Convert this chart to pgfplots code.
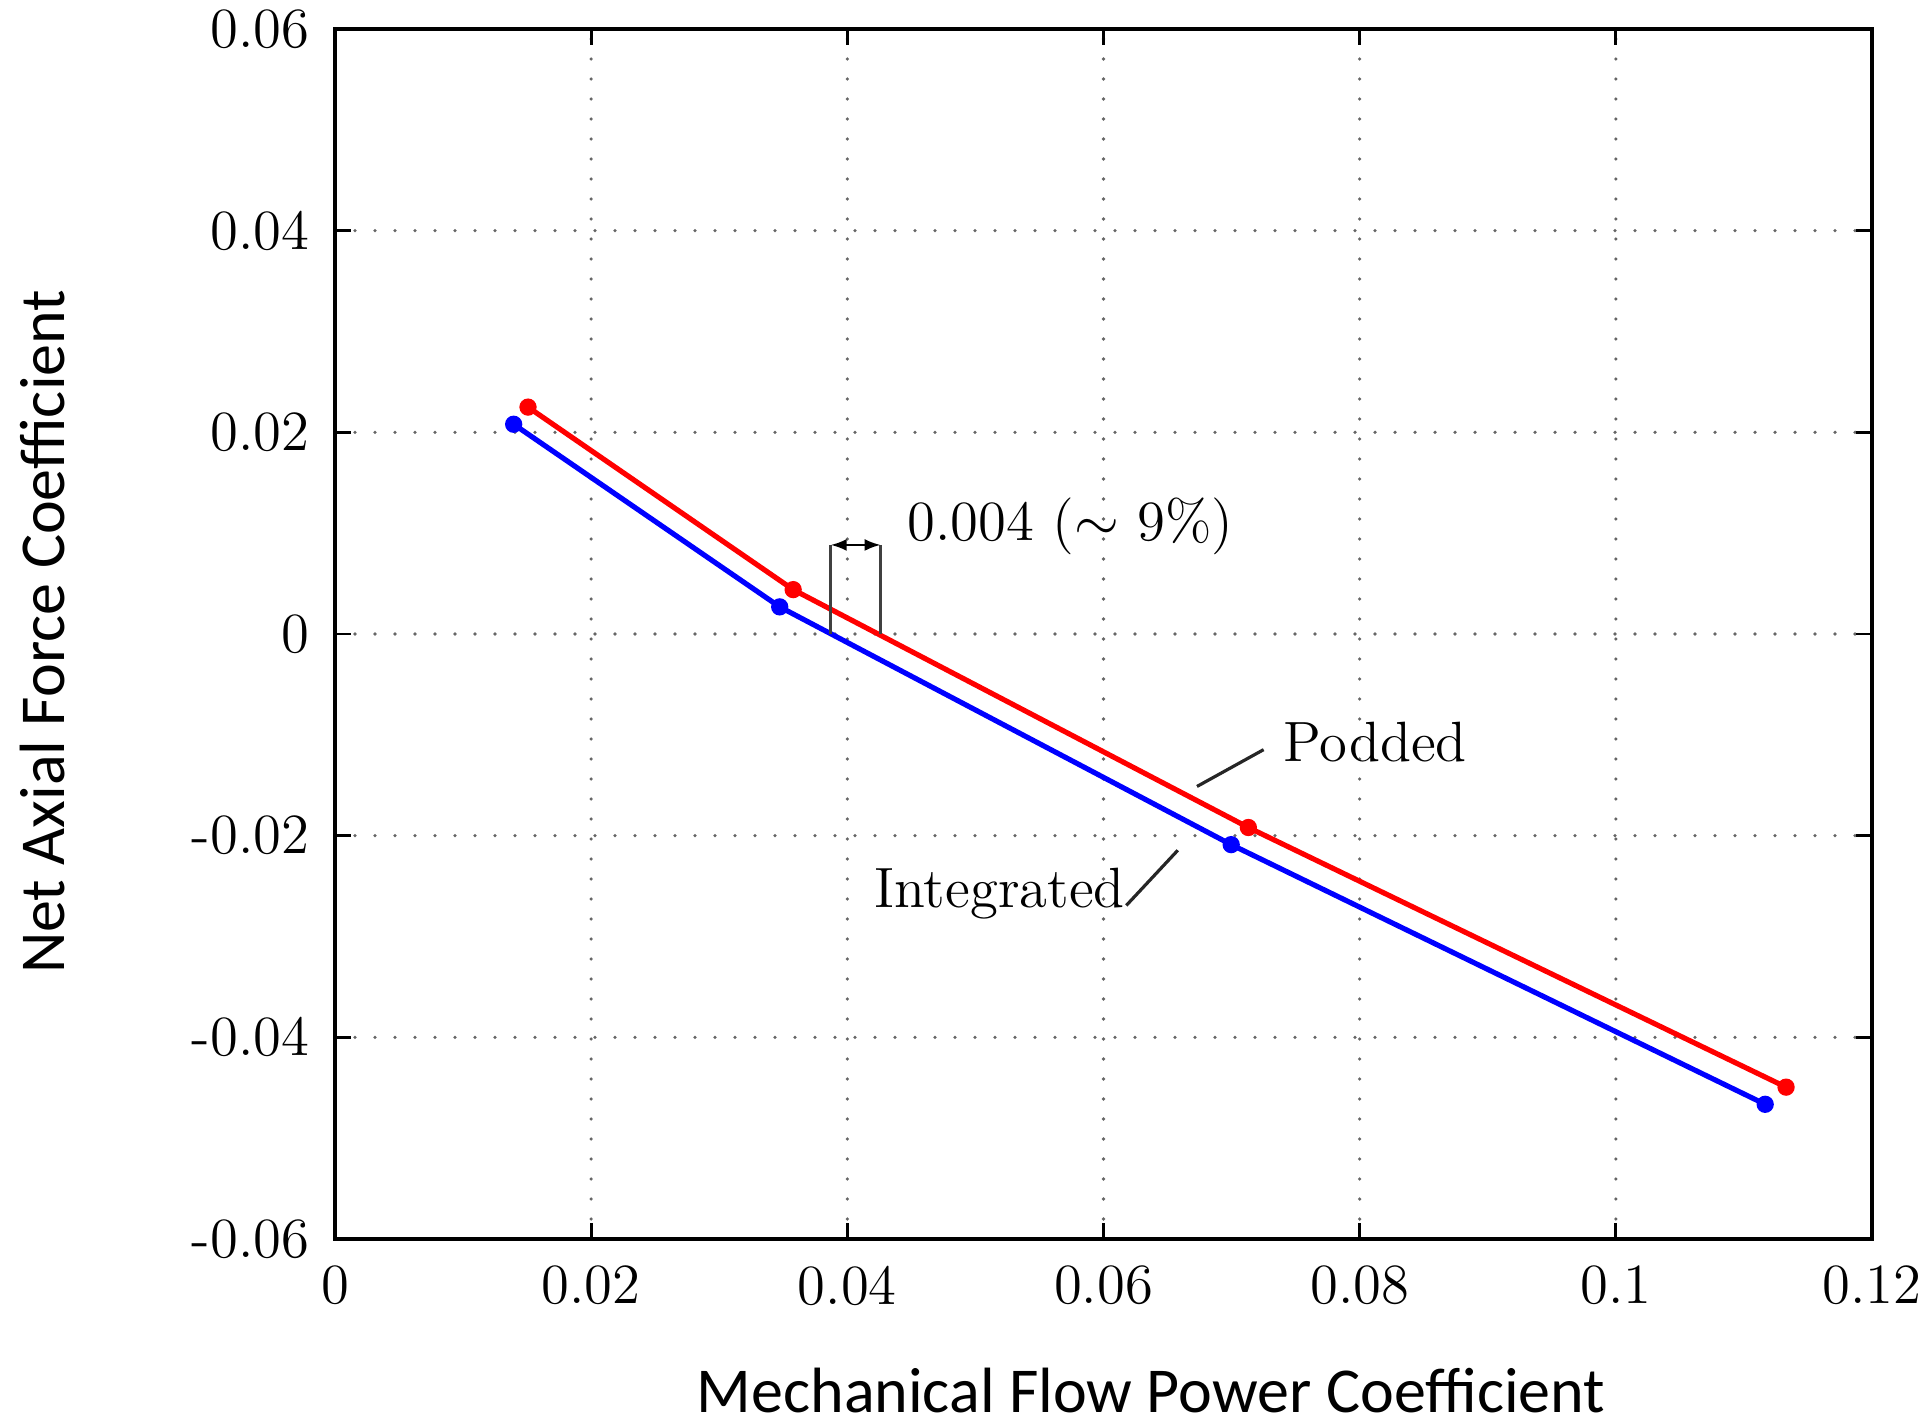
\documentclass[border=0pt]{standalone}
\usepackage{fontspec}
\newfontfamily\calibri{Carlito}
\usepackage{pgfplots}
\pgfplotsset{compat=1.18}
\usetikzlibrary{arrows.meta}
\begin{document}
\begin{tikzpicture}
\path[use as bounding box] (-83.75pt,-44.25pt) rectangle (397.25pt,309.75pt);
\begin{axis}[
  at={(0,0)}, anchor=south west,
  scale only axis, width=384.25pt, height=302.5pt,
  xmin=0, xmax=0.12, ymin=-0.06, ymax=0.06,
  xtick={0,0.02,0.04,0.06,0.08,0.1,0.12},
  xticklabels={0,0.02,0.04,0.06,0.08,0.1,0.12},
  ytick={-0.06,-0.04,-0.02,0,0.02,0.04,0.06},
  yticklabels={-0.06,-0.04,-0.02,0,0.02,0.04,0.06},
  tick align=inside, tick pos=both,
  major tick length=4pt,
  major tick style={black, line width=0.7pt},
  axis line style={black, line width=1pt},
  grid=major,
  major grid style={black!60, line width=0.9pt, line cap=round, dash pattern=on 0pt off 5pt},
  ticklabel style={font=\fontsize{14.2}{17}\selectfont},
  yticklabel style={inner sep=1pt, xshift=-5.2pt},
  xticklabel style={inner sep=1pt, yshift=-5.5pt},
  clip=false,
]
\addplot[red, line width=1.3pt, mark=*, mark size=1.5pt] coordinates {
  (0.01507,0.02250) (0.03577,0.00440) (0.07131,-0.01919) (0.11329,-0.04494)
};
\addplot[blue, line width=1.3pt, mark=*, mark size=1.5pt] coordinates {
  (0.01395,0.02080) (0.03472,0.00269) (0.06997,-0.02089) (0.11166,-0.04664)
};
% bracket annotation
\draw[black!75, line width=0.6pt] (axis cs:0.0387,0) -- (axis cs:0.0387,0.00883);
\draw[black!75, line width=0.6pt] (axis cs:0.0426,0) -- (axis cs:0.0426,0.00883);
\draw[black, line width=0.6pt, {Latex[length=4pt,width=3pt]}-{Latex[length=4pt,width=3pt]}] (axis cs:0.0387,0.00883) -- (axis cs:0.0426,0.00883);
\node[anchor=base west, inner sep=0pt, font=\fontsize{14.2}{17}\selectfont] at (axis cs:0.04463,0.00932) {0.004 ($\sim$ 9\%)};
% Podded
\draw[black!85, line width=0.8pt] (axis cs:0.0673,-0.01512) -- (axis cs:0.0725,-0.01147);
\node[anchor=base west, inner sep=0pt, font=\fontsize{14.2}{17}\selectfont] at (axis cs:0.0740,-0.0126) {Podded};
% Integrated
\draw[black!85, line width=0.8pt] (axis cs:0.06178,-0.02692) -- (axis cs:0.0658,-0.02145);
\node[anchor=base west, inner sep=0pt, font=\fontsize{14.2}{17}\selectfont] at (axis cs:0.04205,-0.02717) {Integrated};
\end{axis}
\node[rotate=90, font=\calibri\fontsize{16}{19}\selectfont] at (-73pt,151.75pt) {Net Axial Force Coefficient};
\node[font=\calibri\fontsize{16}{19}\selectfont] at (204pt,-37.75pt) {Mechanical Flow Power Coefficient};
\end{tikzpicture}
\end{document}
